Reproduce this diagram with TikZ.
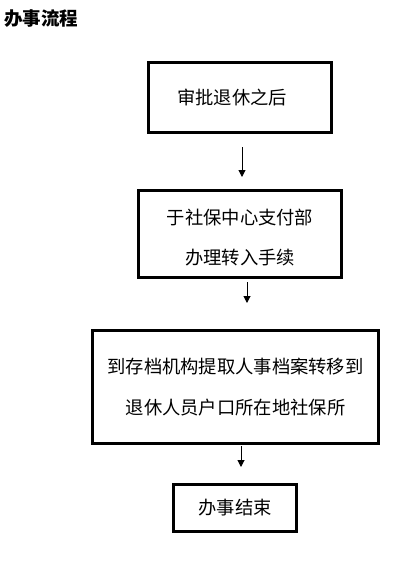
\documentclass[tikz,border=0pt]{standalone}
\usepackage{fontspec}
\setmainfont{Noto Sans CJK SC}
\usetikzlibrary{arrows.meta}
\tikzset{
  stepbox/.style={draw=black, line width=3pt, rectangle, inner sep=0pt, align=center,
    font=\fontsize{18.3}{40.5}\selectfont},
  steptext/.style={inner sep=0pt, align=center, font=\fontsize{18.3}{40.5}\selectfont},
  flowarrow/.style={draw=black, line width=1pt, -{Triangle[width=7pt,length=7pt]}},
  titletext/.style={anchor=west, inner sep=0pt, font=\fontsize{18.5}{20}\selectfont\bfseries}
}
\begin{document}
\begin{tikzpicture}[x=1pt,y=-1pt]
\useasboundingbox[fill=white] (0,0) rectangle (414,568);
\node[titletext] (title) at (4,19) {办事流程};
\node[stepbox, minimum width=183pt, minimum height=70pt] (b1) at (240,97.5) {审批退休之后\hspace{16pt}};
\node[stepbox, minimum width=203pt, minimum height=87pt] (b2) at (240,234) {};
\node[steptext] (b2t) at (240,237.5) {于社保中心支付部\\办理转入手续};
\node[stepbox, minimum width=286pt, minimum height=113pt] (b3) at (235.5,387) {到存档机构提取人事档案转移到\\退休人员户口所在地社保所};
\node[stepbox, minimum width=123pt, minimum height=47pt] (b4) at (235,508) {办事结束};
\coordinate (a1s) at (242,147);
\coordinate (a1e) at (242,177);
\coordinate (a2s) at (247,282);
\coordinate (a2e) at (247,303);
\coordinate (a3s) at (241,446);
\coordinate (a3e) at (241,467);
\draw[flowarrow] (a1s) -- (a1e);
\draw[flowarrow] (a2s) -- (a2e);
\draw[flowarrow] (a3s) -- (a3e);
\end{tikzpicture}
\end{document}
